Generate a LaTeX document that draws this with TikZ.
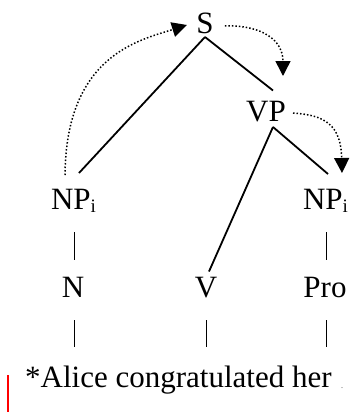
\documentclass[tikz,border=0pt]{standalone}
\usepackage{fontspec}
\setmainfont{Liberation Serif}
\usetikzlibrary{arrows.meta}
\newcommand\npsubi{\raisebox{-3pt}{\fontsize{19}{19}\selectfont i}}
\begin{document}
\begin{tikzpicture}[x=1pt,y=-1pt,
  lab/.style={inner sep=0pt, anchor=base, font=\fontsize{31}{31}\selectfont\rmfamily},
  branch/.style={line width=1.8pt},
  bar/.style={line width=1pt},
  mv/.style={line width=1.5pt, dotted, -{Triangle[length=15pt,width=15pt]}}]
\useasboundingbox (0,0) rectangle (360,413);
% nodes
\node[lab] (S) at (205,33) {S};
\node[lab] (VP) at (266,121) {VP};
\node[lab] (npL) at (73.5,209) {NP\npsubi};
\node[lab] (npR) at (325.5,209) {NP\npsubi};
\node[lab] (N) at (73,297) {N};
\node[lab] (V) at (206,297) {V};
\node[lab] (Pro) at (325,297) {Pro};
\node[lab, anchor=base west] (sent) at (25,387) {*Alice congratulated her};
\node[inner sep=0pt, anchor=base, text=gray, font=\fontsize{10}{10}\selectfont] (dot) at (342,388) {.};
% branches
\draw[branch] ([yshift=-3.5pt]S.south) -- ([xshift=5.5pt,yshift=15.5pt]npL.north);
\draw[branch] ([yshift=-3.5pt]S.south) -- ([xshift=7pt,yshift=10pt]VP.north);
\draw[branch] ([xshift=7pt,yshift=-6pt]VP.base) -- ([xshift=3pt,yshift=5pt]V.north);
\draw[branch] ([xshift=7pt,yshift=-6pt]VP.base) -- ([xshift=2.5pt,yshift=14.5pt]npR.north);
% bars
\draw[bar] ([xshift=0.5pt,yshift=-23pt]npL.base) -- ([xshift=1pt,yshift=37pt]N.base);
\draw[bar] ([xshift=0.5pt,yshift=-23pt]npR.base) -- ([xshift=1pt,yshift=37pt]Pro.base);
\draw[bar] ([xshift=1pt,yshift=-23pt]N.base) -- ++(0,27);
\draw[bar] ([yshift=-23pt]V.base) -- ++(0,27);
\draw[bar] ([xshift=1pt,yshift=-23pt]Pro.base) -- ++(0,27);
% movement arrows
\draw[mv] ([xshift=-8.5pt,yshift=13.5pt]npL.north) .. controls (66,55) and (140,40) .. ([xshift=-18pt,yshift=8pt]S.base);
\draw[mv] ([xshift=11pt,yshift=-3pt]S.east) .. controls (262,25) and (283,40) .. ([xshift=17pt,yshift=45pt]VP.base);
\draw[mv] ([xshift=7pt,yshift=-2pt]VP.east) .. controls (325,115) and (341,125) .. ([xshift=16.5pt,yshift=36pt]npR.base);
% red mark
\draw[red, line width=1.5pt] (8,375) -- (8,412);
\end{tikzpicture}
\end{document}
